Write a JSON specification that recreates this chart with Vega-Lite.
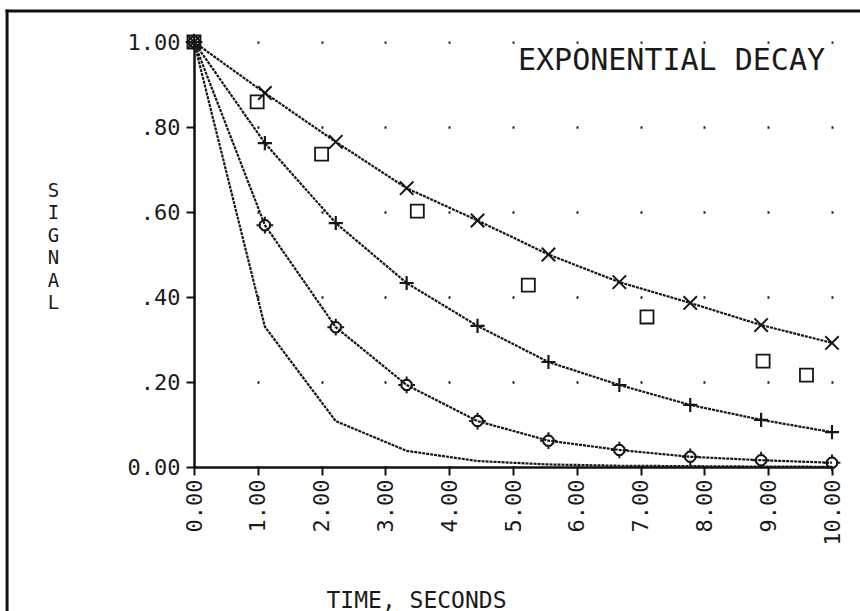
{
  "$schema": "https://vega.github.io/schema/vega-lite/v6.json",
  "width": 638,
  "height": 425,
  "autosize": {"type": "none"},
  "padding": {"left": 194, "top": 42, "right": 28, "bottom": 144},
  "background": "white",
  "config": {"view": {"stroke": null}, "font": "DejaVu Sans Mono"},
  "title": {
    "text": "EXPONENTIAL DECAY",
    "anchor": "end",
    "orient": "top",
    "frame": "group",
    "offset": -30,
    "dy": 61,
    "baseline": "alphabetic",
    "dx": -7,
    "font": "DejaVu Sans Mono",
    "fontSize": 30,
    "fontWeight": "normal",
    "color": "#1a1a1a"
  },
  "datasets": {
    "curves": [
      {"t": 0, "v": 1.0, "s": "A"}, {"t": 1.111, "v": 0.88, "s": "A"}, {"t": 2.222, "v": 0.765, "s": "A"}, {"t": 3.333, "v": 0.656, "s": "A"}, {"t": 4.444, "v": 0.58, "s": "A"}, {"t": 5.556, "v": 0.5, "s": "A"}, {"t": 6.667, "v": 0.435, "s": "A"}, {"t": 7.778, "v": 0.386, "s": "A"}, {"t": 8.889, "v": 0.334, "s": "A"}, {"t": 10, "v": 0.292, "s": "A"},
      {"t": 0, "v": 1.0, "s": "B"}, {"t": 1.111, "v": 0.762, "s": "B"}, {"t": 2.222, "v": 0.574, "s": "B"}, {"t": 3.333, "v": 0.433, "s": "B"}, {"t": 4.444, "v": 0.332, "s": "B"}, {"t": 5.556, "v": 0.247, "s": "B"}, {"t": 6.667, "v": 0.193, "s": "B"}, {"t": 7.778, "v": 0.146, "s": "B"}, {"t": 8.889, "v": 0.111, "s": "B"}, {"t": 10, "v": 0.082, "s": "B"},
      {"t": 0, "v": 1.0, "s": "C"}, {"t": 1.111, "v": 0.569, "s": "C"}, {"t": 2.222, "v": 0.329, "s": "C"}, {"t": 3.333, "v": 0.193, "s": "C"}, {"t": 4.444, "v": 0.108, "s": "C"}, {"t": 5.556, "v": 0.062, "s": "C"}, {"t": 6.667, "v": 0.04, "s": "C"}, {"t": 7.778, "v": 0.024, "s": "C"}, {"t": 8.889, "v": 0.016, "s": "C"}, {"t": 10, "v": 0.01, "s": "C"},
      {"t": 0, "v": 1.0, "s": "D"}, {"t": 1.111, "v": 0.33, "s": "D"}, {"t": 2.222, "v": 0.108, "s": "D"}, {"t": 3.333, "v": 0.038, "s": "D"}, {"t": 4.444, "v": 0.014, "s": "D"}, {"t": 5.556, "v": 0.006, "s": "D"}, {"t": 6.667, "v": 0.003, "s": "D"}, {"t": 7.778, "v": 0.002, "s": "D"}, {"t": 8.889, "v": 0.001, "s": "D"}, {"t": 10, "v": 0.0005, "s": "D"}
    ],
    "obs": [
      {"t": 0, "v": 1.0}, {"t": 0.99, "v": 0.859}, {"t": 2.0, "v": 0.736}, {"t": 3.5, "v": 0.602}, {"t": 5.24, "v": 0.428}, {"t": 7.1, "v": 0.353}, {"t": 8.92, "v": 0.249}, {"t": 9.6, "v": 0.216}
    ]
  },
  "encoding": {
    "x": {
      "field": "t",
      "type": "quantitative",
      "scale": {"domain": [0, 10], "nice": false, "zero": false},
      "axis": {
        "title": "TIME, SECONDS",
        "values": [0, 1, 2, 3, 4, 5, 6, 7, 8, 9, 10],
        "labelExpr": "format(datum.value, '.2f')",
        "labelAngle": 270,
        "labelFont": "DejaVu Sans Mono",
        "labelFontSize": 22,
        "labelColor": "#1a1a1a",
        "labelPadding": 4,
        "labelFlush": false,
        "labelOverlap": false,
        "labelBound": false,
        "tickSize": 8,
        "tickWidth": 2,
        "tickColor": "#111",
        "domainColor": "#111",
        "domainWidth": 2.5,
        "grid": true,
        "gridColor": "#222",
        "gridWidth": 2,
        "gridDash": [0.5, 84.5],
        "gridDashOffset": 0.25,
        "gridCap": "square",
        "titleFont": "DejaVu Sans Mono",
        "titleFontSize": 23,
        "titleFontWeight": "normal",
        "titleColor": "#1a1a1a",
        "titleX": 222,
        "titleY": 140,
        "titleBaseline": "alphabetic",
        "titleAlign": "center"
      }
    },
    "y": {
      "field": "v",
      "type": "quantitative",
      "scale": {"domain": [0, 1], "nice": false, "zero": false},
      "axis": {
        "title": ["S", "I", "G", "N", "A", "L"],
        "values": [0, 0.2, 0.4, 0.6, 0.8, 1],
        "labelExpr": "datum.value == 0 ? '0.00' : datum.value == 1 ? '1.00' : replace(format(datum.value, '.2f'), '0.', '.')",
        "labelFont": "DejaVu Sans Mono",
        "labelFontSize": 22,
        "labelColor": "#1a1a1a",
        "labelPadding": 6,
        "labelFlush": false,
        "labelOverlap": false,
        "grid": false,
        "tickSize": 8,
        "tickWidth": 2,
        "tickColor": "#111",
        "domainColor": "#111",
        "domainWidth": 2.5,
        "titleFont": "DejaVu Sans Mono",
        "titleFontSize": 19,
        "titleFontWeight": "normal",
        "titleColor": "#1a1a1a",
        "titleAngle": 0,
        "titleX": -141,
        "titleY": 139,
        "titleBaseline": "top",
        "titleAlign": "center",
        "titleLineHeight": 22.5
      }
    }
  },
  "layer": [
    {
      "data": {"name": "curves"},
      "mark": {"type": "line", "strokeWidth": 2.2, "color": "#161616", "strokeDash": [3, 1]},
      "encoding": {"detail": {"field": "s"}}
    },
    {
      "data": {"name": "curves"},
      "transform": [{"filter": "datum.s == 'A'"}],
      "mark": {"type": "point", "shape": "M-1,-1L1,1M1,-1L-1,1", "size": 180, "filled": false, "strokeWidth": 2, "color": "#161616", "opacity": 1}
    },
    {
      "data": {"name": "curves"},
      "transform": [{"filter": "datum.s == 'B'"}],
      "mark": {"type": "point", "shape": "M-1,0L1,0M0,-1L0,1", "size": 200, "filled": false, "strokeWidth": 2.2, "color": "#161616", "opacity": 1}
    },
    {
      "data": {"name": "curves"},
      "transform": [{"filter": "datum.s == 'C'"}],
      "mark": {"type": "point", "shape": "M-0.25,-0.6L0.25,-0.6L0.6,-0.25L0.6,0.25L0.25,0.6L-0.25,0.6L-0.6,0.25L-0.6,-0.25Z M0,-0.6L0,-1 M0.6,0L1,0 M0,0.6L0,1 M-0.6,0L-1,0", "size": 280, "filled": false, "strokeWidth": 2, "color": "#161616", "opacity": 1}
    },
    {
      "data": {"name": "obs"},
      "mark": {"type": "point", "shape": "square", "size": 170, "filled": false, "strokeWidth": 1.8, "color": "#161616", "opacity": 1}
    },
    {
      "data": {"name": "curves"},
      "transform": [{"filter": "datum.s == 'A' && datum.t == 0"}],
      "mark": {"type": "rule", "strokeWidth": 3, "color": "#111", "strokeCap": "square", "clip": false},
      "encoding": {"x": {"datum": -2.93, "type": "quantitative"}, "y": {"datum": -0.4, "type": "quantitative"}, "y2": {"datum": 1.073}}
    },
    {
      "data": {"name": "curves"},
      "transform": [{"filter": "datum.s == 'A' && datum.t == 0"}],
      "mark": {"type": "rule", "strokeWidth": 3, "color": "#111", "strokeCap": "square", "clip": false},
      "encoding": {"y": {"datum": 1.073, "type": "quantitative"}, "x": {"datum": -2.93, "type": "quantitative"}, "x2": {"datum": 10.6}}
    }
  ]
}
